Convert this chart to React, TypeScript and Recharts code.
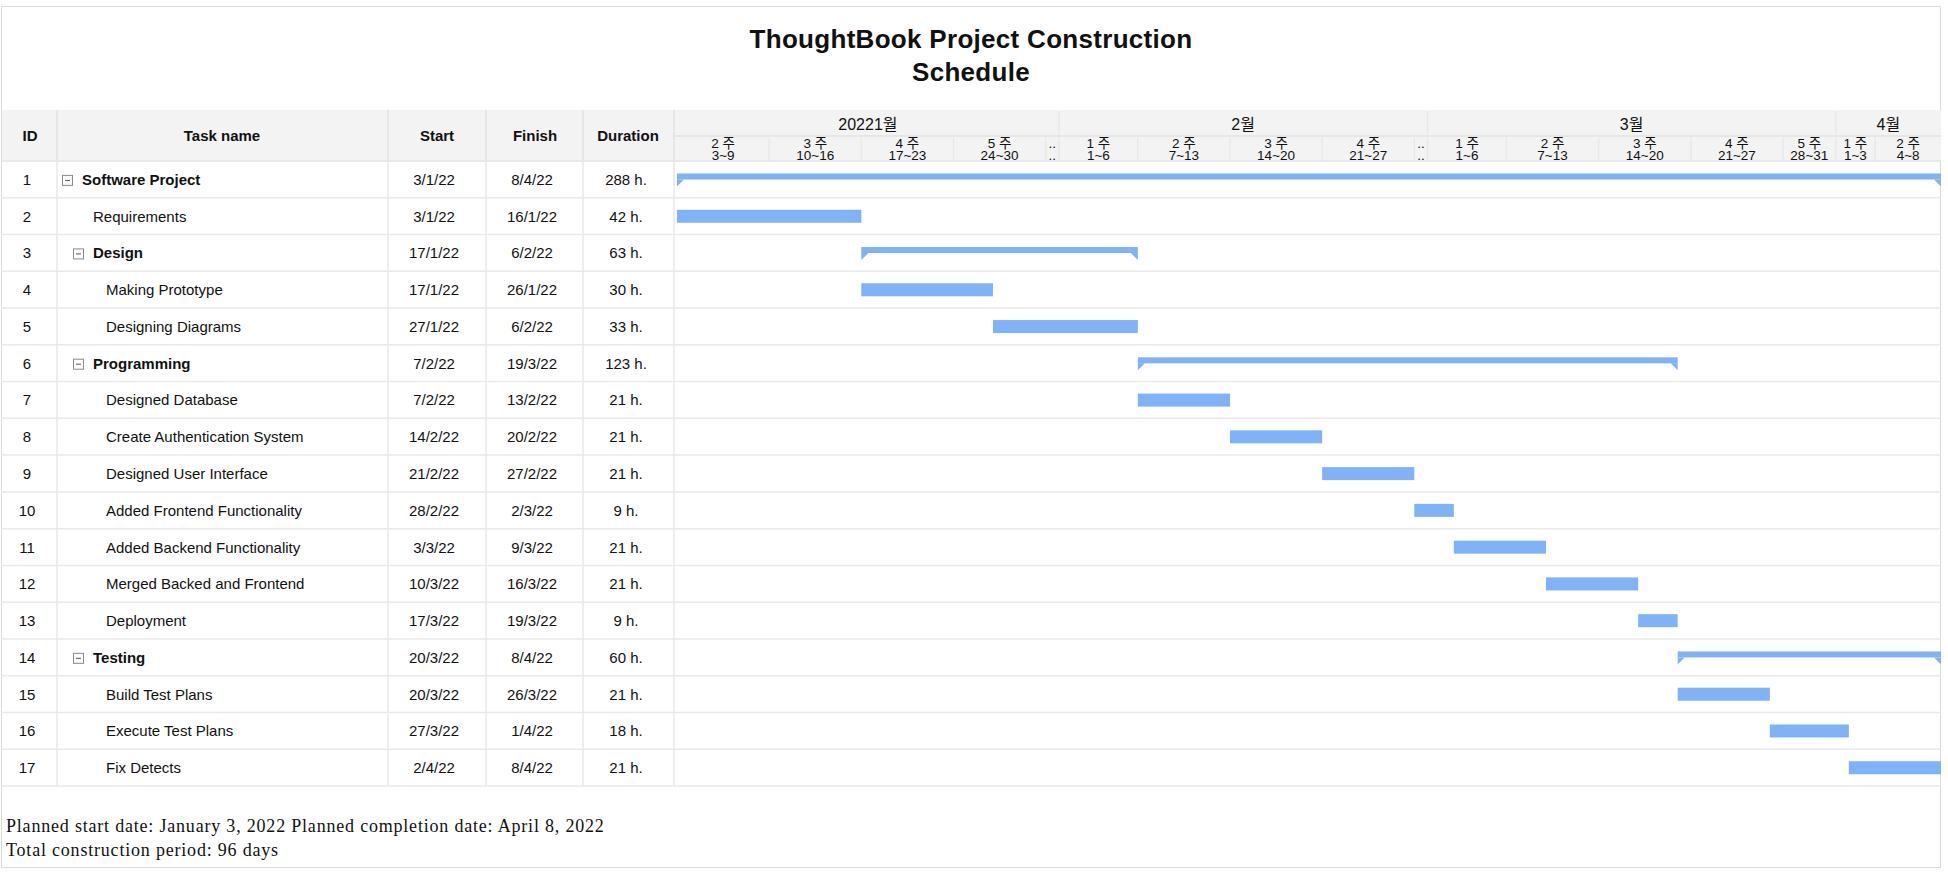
import React from 'react';
import { BarChart, Bar, XAxis, YAxis } from 'recharts';

// ---------- data ----------
const taskIds = [1, 2, 3, 4, 5, 6, 7, 8, 9, 10, 11, 12, 13, 14, 15, 16, 17];
const taskNames = [
  'Software Project',
  'Requirements',
  'Design',
  'Making Prototype',
  'Designing Diagrams',
  'Programming',
  'Designed Database',
  'Create Authentication System',
  'Designed User Interface',
  'Added Frontend Functionality',
  'Added Backend Functionality',
  'Merged Backed and Frontend',
  'Deployment',
  'Testing',
  'Build Test Plans',
  'Execute Test Plans',
  'Fix Detects',
];
const taskLevels = [0, 1, 1, 2, 2, 1, 2, 2, 2, 2, 2, 2, 2, 1, 2, 2, 2];
const summaryFlags = [true, false, true, false, false, true, false, false, false, false, false, false, false, true, false, false, false];
const startLabels = ['3/1/22', '3/1/22', '17/1/22', '17/1/22', '27/1/22', '7/2/22', '7/2/22', '14/2/22', '21/2/22', '28/2/22', '3/3/22', '10/3/22', '17/3/22', '20/3/22', '20/3/22', '27/3/22', '2/4/22'];
const finishLabels = ['8/4/22', '16/1/22', '6/2/22', '26/1/22', '6/2/22', '19/3/22', '13/2/22', '20/2/22', '27/2/22', '2/3/22', '9/3/22', '16/3/22', '19/3/22', '8/4/22', '26/3/22', '1/4/22', '8/4/22'];
const durationLabels = ['288 h.', '42 h.', '63 h.', '30 h.', '33 h.', '123 h.', '21 h.', '21 h.', '21 h.', '9 h.', '21 h.', '21 h.', '9 h.', '60 h.', '21 h.', '18 h.', '21 h.'];

const timelineStart = '3/1/22';
const timelineDays = 96;

const monthLabels = ['20221월', '2월', '3월', '4월'];
const monthDays = [29, 28, 31, 8];

const weekTopLabels = ['2 주', '3 주', '4 주', '5 주', '..', '1 주', '2 주', '3 주', '4 주', '..', '1 주', '2 주', '3 주', '4 주', '5 주', '1 주', '2 주'];
const weekBottomLabels = ['3~9', '10~16', '17~23', '24~30', '..', '1~6', '7~13', '14~20', '21~27', '..', '1~6', '7~13', '14~20', '21~27', '28~31', '1~3', '4~8'];
const weekDays = [7, 7, 7, 7, 1, 6, 7, 7, 7, 1, 6, 7, 7, 7, 4, 3, 5];

const headerLabels = ['ID', 'Task name', 'Start', 'Finish', 'Duration'];

// ---------- helpers ----------
const parseDate = (s: string) => {
  const [d, m, y] = s.split('/').map(Number);
  return Date.UTC(2000 + y, m - 1, d);
};
const DAY = 86400000;
const base = parseDate(timelineStart);
const dayOffset = (s: string) => Math.round((parseDate(s) - base) / DAY);

const cumulative = (arr: number[]) => {
  const out: number[] = [0];
  arr.forEach((v) => out.push(out[out.length - 1] + v));
  return out;
};
const weekBounds = cumulative(weekDays);
const weekCenters = weekDays.map((d, i) => weekBounds[i] + d / 2);
const monthBounds = cumulative(monthDays);
const monthCenters = monthDays.map((d, i) => monthBounds[i] + d / 2);

const data = taskIds.map((id, i) => ({
  id: String(id),
  range: [dayOffset(startLabels[i]), dayOffset(finishLabels[i]) + 1],
  summary: summaryFlags[i],
}));

// ---------- layout / style ----------
const W = 1948;
const H = 874;
const PLOT_LEFT = 677;
const PLOT_RIGHT = 1941;
const PLOT_TOP = 161;
const PLOT_BOTTOM = 786;
const ROW_H = (PLOT_BOTTOM - PLOT_TOP) / taskIds.length;
const BLUE = '#7FB2F6';
const LINE = '#e9e9e9';
const HEADER_BG = '#f3f3f3';
const FONT = "'Liberation Sans', Arial, 'Noto Sans CJK KR', sans-serif";
const COL_BORDERS = [57, 388, 486, 583, 674];
const HEADER_CENTERS = [30, 222, 437, 535, 628];
const BODY_CENTERS = [27, 0, 434, 532, 626];
const LEVEL_X = [82, 93, 106];

const findIdx = (arr: number[], v: any) => {
  const n = Number(v);
  let best = 0;
  let bd = Infinity;
  arr.forEach((a, i) => {
    const d = Math.abs(a - n);
    if (d < bd) {
      bd = d;
      best = i;
    }
  });
  return best;
};

const BarShape = (props: any) => {
  const { x, y, width, height, payload } = props;
  const cy = y + height / 2;
  if (payload.summary) {
    const top = cy - 6;
    const bot = cy;
    return (
      <g>
        <rect x={x} y={top} width={width} height={6} fill={BLUE} />
        <polygon points={`${x},${bot} ${x + 7},${bot} ${x},${bot + 7}`} fill={BLUE} />
        <polygon points={`${x + width},${bot} ${x + width - 7},${bot} ${x + width},${bot + 7}`} fill={BLUE} />
      </g>
    );
  }
  return <rect x={x} y={cy - 6.5} width={width} height={13} fill={BLUE} />;
};

const RowTick = (props: any) => {
  const { y, payload } = props;
  const i = taskIds.indexOf(Number(payload.value));
  const summary = summaryFlags[i];
  const tx = LEVEL_X[taskLevels[i]];
  const top = y - ROW_H / 2;
  const bottom = y + ROW_H / 2;
  const by = y + 5.5;
  return (
    <g fontFamily={FONT} fontSize={15} fill="#111">
      <line x1={1} x2={PLOT_RIGHT} y1={bottom} y2={bottom} stroke={LINE} strokeWidth={1.5} />
      {COL_BORDERS.map((cx) => (
        <line key={cx} x1={cx} x2={cx} y1={top} y2={bottom} stroke={LINE} strokeWidth={1.5} />
      ))}
      <text x={BODY_CENTERS[0]} y={by} textAnchor="middle">{taskIds[i]}</text>
      {summary && (
        <g>
          <rect x={tx - 19.5} y={y - 4} width={10} height={10} fill="#fff" stroke="#8a8a8a" strokeWidth={1} />
          <line x1={tx - 17} x2={tx - 12} y1={y + 1} y2={y + 1} stroke="#555" strokeWidth={1} />
        </g>
      )}
      <text x={tx} y={by} fontWeight={summary ? 700 : 400}>{taskNames[i]}</text>
      <text x={BODY_CENTERS[2]} y={by} textAnchor="middle">{startLabels[i]}</text>
      <text x={BODY_CENTERS[3]} y={by} textAnchor="middle">{finishLabels[i]}</text>
      <text x={BODY_CENTERS[4]} y={by} textAnchor="middle">{durationLabels[i]}</text>
    </g>
  );
};

const WeekTick = (props: any) => {
  const { x, payload } = props;
  const idx = findIdx(weekCenters, payload.value);
  return (
    <g fontFamily={FONT} fontSize={13.5} fill="#111">
      <text x={x} y={147.5} textAnchor="middle">{weekTopLabels[idx]}</text>
      <text x={x} y={159.5} textAnchor="middle">{weekBottomLabels[idx]}</text>
    </g>
  );
};

const WeekBoundTick = (props: any) => {
  const { x, payload } = props;
  const idx = findIdx(weekBounds, payload.value);
  if (idx === 0 || idx === weekBounds.length - 1) return <g />;
  return <line x1={x} x2={x} y1={136} y2={161} stroke={LINE} strokeWidth={1.5} />;
};

const MonthTick = (props: any) => {
  const { x, payload } = props;
  const idx = findIdx(monthCenters, payload.value);
  return (
    <text x={x} y={130} textAnchor="middle" fontFamily={FONT} fontSize={16} fill="#111">
      {monthLabels[idx]}
    </text>
  );
};

const MonthBoundTick = (props: any) => {
  const { x, payload } = props;
  const idx = findIdx(monthBounds, payload.value);
  if (idx === 0 || idx === monthBounds.length - 1) return <g />;
  return <line x1={x} x2={x} y1={111} y2={136} stroke={LINE} strokeWidth={1.5} />;
};

export default function App() {
  return (
    <div style={{ position: 'absolute', left: 0, top: 0, width: W, height: H, background: '#fff' }}>
      {/* outer frame */}
      <div style={{ position: 'absolute', left: 1, top: 6, width: 1940, height: 862, border: '1px solid #dadada', boxSizing: 'border-box' }} />
      {/* header background */}
      <div style={{ position: 'absolute', left: 2, top: 110, width: 1939, height: 51, background: HEADER_BG }} />
      {/* header column borders */}
      {COL_BORDERS.map((cx) => (
        <div key={cx} style={{ position: 'absolute', left: cx - 0.75, top: 110, width: 1.5, height: 51, background: '#e6e6e6' }} />
      ))}
      {/* timeline header middle rule */}
      <div style={{ position: 'absolute', left: 674, top: 135.25, width: 1267, height: 1.5, background: '#e6e6e6' }} />
      {/* header bottom rule */}
      <div style={{ position: 'absolute', left: 1, top: 160.25, width: 1940, height: 1.5, background: LINE }} />
      {/* header labels */}
      {headerLabels.map((lab, i) => (
        <div
          key={lab}
          style={{
            position: 'absolute',
            left: HEADER_CENTERS[i] - 100,
            width: 200,
            top: 110,
            height: 51,
            display: 'flex',
            alignItems: 'center',
            justifyContent: 'center',
            fontFamily: FONT,
            fontWeight: 700,
            fontSize: 15,
            color: '#111',
          }}
        >
          {lab}
        </div>
      ))}
      {/* title */}
      <div
        style={{
          position: 'absolute',
          left: 1,
          width: 1940,
          top: 23,
          textAlign: 'center',
          fontFamily: FONT,
          fontWeight: 700,
          fontSize: 26,
          letterSpacing: 0.3,
          lineHeight: '33px',
          color: '#111',
        }}
      >
        <div>ThoughtBook Project Construction</div>
        <div>Schedule</div>
      </div>
      {/* footer */}
      <div
        style={{
          position: 'absolute',
          left: 6,
          top: 814,
          fontFamily: "'Liberation Serif', 'Times New Roman', serif",
          fontSize: 18,
          letterSpacing: 0.8,
          lineHeight: '24px',
          color: '#111',
          whiteSpace: 'nowrap',
        }}
      >
        <div>Planned start date: January 3, 2022 Planned completion date: April 8, 2022</div>
        <div>Total construction period: 96 days</div>
      </div>
      {/* chart */}
      <div style={{ position: 'absolute', left: 0, top: 0 }}>
        <BarChart
          width={W}
          height={H}
          data={data}
          layout="vertical"
          margin={{ top: PLOT_TOP - 51, right: W - PLOT_RIGHT, bottom: H - PLOT_BOTTOM, left: 0 }}
          barSize={13}
        >
          <XAxis
            xAxisId="main"
            type="number"
            domain={[0, timelineDays]}
            orientation="top"
            height={48}
            ticks={weekCenters}
            interval={0}
            tick={<WeekTick />}
            tickLine={false}
            axisLine={false}
            allowDataOverflow
          />
          <XAxis
            xAxisId="weekB"
            type="number"
            domain={[0, timelineDays]}
            orientation="top"
            height={1}
            ticks={weekBounds}
            interval={0}
            tick={<WeekBoundTick />}
            tickLine={false}
            axisLine={false}
            allowDataOverflow
          />
          <XAxis
            xAxisId="month"
            type="number"
            domain={[0, timelineDays]}
            orientation="top"
            height={1}
            ticks={monthCenters}
            interval={0}
            tick={<MonthTick />}
            tickLine={false}
            axisLine={false}
            allowDataOverflow
          />
          <XAxis
            xAxisId="monthB"
            type="number"
            domain={[0, timelineDays]}
            orientation="top"
            height={1}
            ticks={monthBounds}
            interval={0}
            tick={<MonthBoundTick />}
            tickLine={false}
            axisLine={false}
            allowDataOverflow
          />
          <YAxis
            type="category"
            dataKey="id"
            width={PLOT_LEFT}
            interval={0}
            tick={<RowTick />}
            tickLine={false}
            axisLine={false}
          />
          <Bar xAxisId="main" dataKey="range" isAnimationActive={false} shape={<BarShape />} />
        </BarChart>
      </div>
    </div>
  );
}
